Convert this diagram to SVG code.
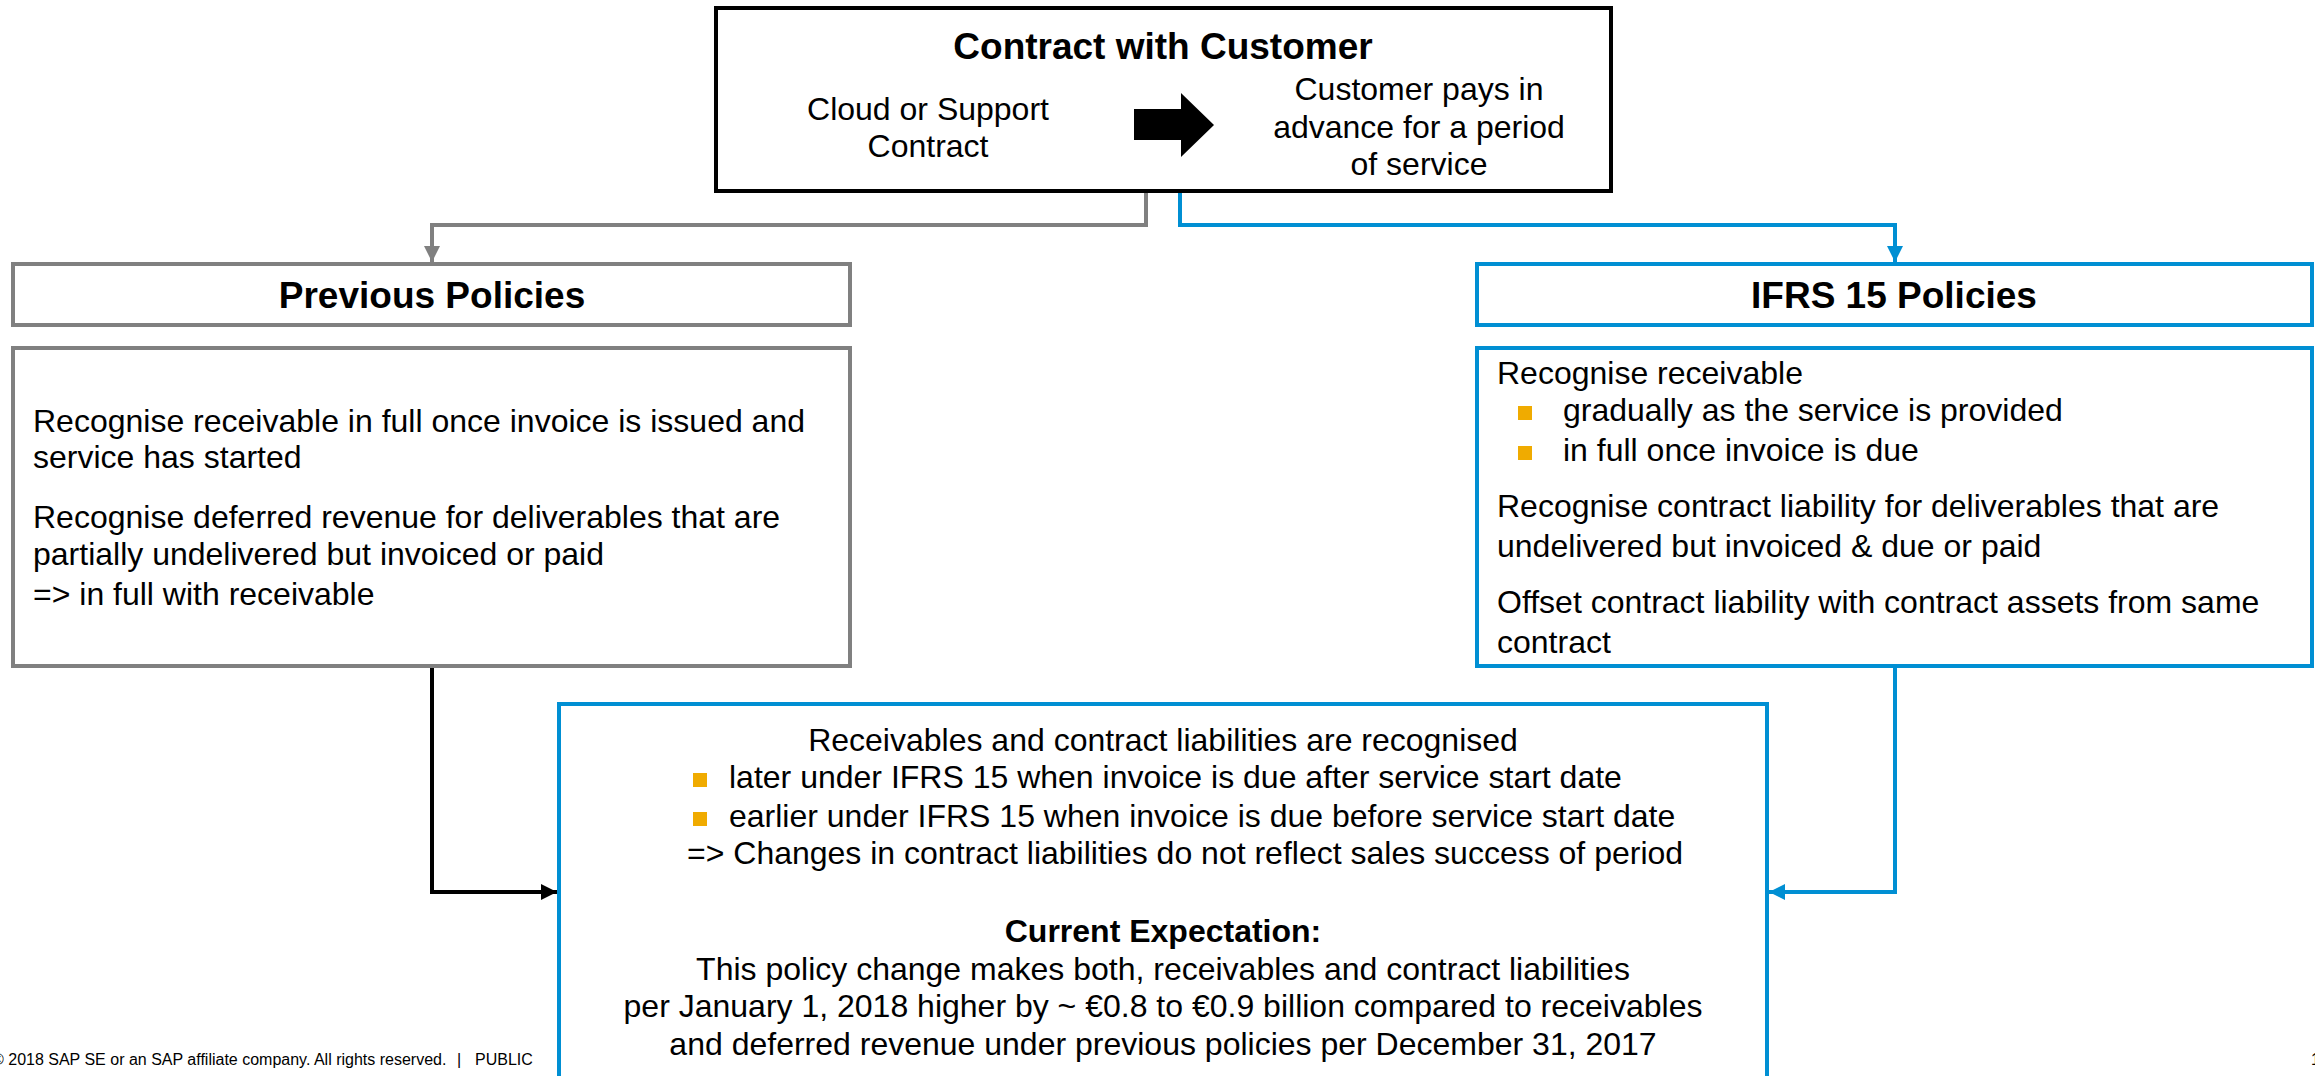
<svg xmlns="http://www.w3.org/2000/svg" width="2315" height="1076" viewBox="0 0 2315 1076">
  <style>
    .t { font-family: "Liberation Sans", Arial, sans-serif; font-size: 32px; fill: #000; }
    .b { font-family: "Liberation Sans", Arial, sans-serif; font-size: 37px; font-weight: bold; fill: #000; }
    .c { text-anchor: middle; }
    .foot { font-family: "Liberation Sans", Arial, sans-serif; font-size: 16px; fill: #000; }
    .box { fill: #fff; stroke-width: 4; }
    .black { stroke: #000; }
    .gray { stroke: #808080; }
    .blue { stroke: #008fd3; }
    .bul { fill: #f0ab00; }
    .line { fill: none; stroke-width: 4; }
  </style>
  <defs>
    <marker id="ahGray" markerUnits="userSpaceOnUse" viewBox="0 0 16 16" refX="16" refY="8" markerWidth="16" markerHeight="16" orient="auto">
      <path d="M0,0 L16,8 L0,16 Z" fill="#808080"/>
    </marker>
    <marker id="ahBlue" markerUnits="userSpaceOnUse" viewBox="0 0 16 16" refX="16" refY="8" markerWidth="16" markerHeight="16" orient="auto">
      <path d="M0,0 L16,8 L0,16 Z" fill="#008fd3"/>
    </marker>
    <marker id="ahBlack" markerUnits="userSpaceOnUse" viewBox="0 0 16 16" refX="16" refY="8" markerWidth="16" markerHeight="16" orient="auto">
      <path d="M0,0 L16,8 L0,16 Z" fill="#000"/>
    </marker>
  </defs>

  <rect width="2315" height="1076" fill="#fff"/>

  <!-- connectors -->
  <g id="connectors">
    <path class="line gray" d="M1146,191 V225 H432 V262" marker-end="url(#ahGray)"/>
    <path class="line blue" d="M1180,191 V225 H1895 V262" marker-end="url(#ahBlue)"/>
    <path class="line black" d="M432,666 V892 H557" marker-end="url(#ahBlack)"/>
    <path class="line blue" d="M1895,666 V892 H1769" marker-end="url(#ahBlue)"/>
  </g>

  <!-- contract with customer -->
  <g id="contract">
    <rect class="box black" x="716" y="8" width="895" height="183"/>
    <text class="b c" x="1163" y="59">Contract with Customer</text>
    <text class="t c" x="928" y="120">Cloud or Support</text>
    <text class="t c" x="928" y="157">Contract</text>
    <polygon points="1134,109 1181,109 1181,93 1214,125 1181,157 1181,140 1134,140" fill="#000"/>
    <text class="t c" x="1419" y="100">Customer pays in</text>
    <text class="t c" x="1419" y="138">advance for a period</text>
    <text class="t c" x="1419" y="175">of service</text>
  </g>

  <!-- previous policies -->
  <g id="previous-title">
    <rect class="box gray" x="13" y="264" width="837" height="61"/>
    <text class="b c" x="432" y="308">Previous Policies</text>
  </g>
  <g id="previous-body">
    <rect class="box gray" x="13" y="348" width="837" height="318"/>
    <text class="t" x="33" y="432">Recognise receivable in full once invoice is issued and</text>
    <text class="t" x="33" y="468">service has started</text>
    <text class="t" x="33" y="528">Recognise deferred revenue for deliverables that are</text>
    <text class="t" x="33" y="565">partially undelivered but invoiced or paid</text>
    <text class="t" x="33" y="605">=&gt; in full with receivable</text>
  </g>

  <!-- IFRS 15 policies -->
  <g id="ifrs-title">
    <rect class="box blue" x="1477" y="264" width="835" height="61"/>
    <text class="b c" x="1894" y="308">IFRS 15 Policies</text>
  </g>
  <g id="ifrs-body">
    <rect class="box blue" x="1477" y="348" width="835" height="318"/>
    <text class="t" x="1497" y="384">Recognise receivable</text>
    <rect class="bul" x="1518" y="406" width="14" height="14"/>
    <text class="t" x="1563" y="421">gradually as the service is provided</text>
    <rect class="bul" x="1518" y="446" width="14" height="14"/>
    <text class="t" x="1563" y="461">in full once invoice is due</text>
    <text class="t" x="1497" y="517">Recognise contract liability for deliverables that are</text>
    <text class="t" x="1497" y="557">undelivered but invoiced &amp; due or paid</text>
    <text class="t" x="1497" y="613">Offset contract liability with contract assets from same</text>
    <text class="t" x="1497" y="653">contract</text>
  </g>

  <!-- effect of the change -->
  <g id="effect">
    <rect class="box blue" x="559" y="704" width="1208" height="400"/>
    <text class="t c" x="1163" y="751">Receivables and contract liabilities are recognised</text>
    <rect class="bul" x="693" y="773" width="14" height="14"/>
    <text class="t" x="729" y="788">later under IFRS 15 when invoice is due after service start date</text>
    <rect class="bul" x="693" y="812" width="14" height="14"/>
    <text class="t" x="729" y="827">earlier under IFRS 15 when invoice is due before service start date</text>
    <text class="t" x="687" y="864">=&gt; Changes in contract liabilities do not reflect sales success of period</text>
    <text class="b c" x="1163" y="942" style="font-size:32px">Current Expectation:</text>
    <text class="t c" x="1163" y="980">This policy change makes both, receivables and contract liabilities</text>
    <text class="t c" x="1163" y="1017">per January 1, 2018 higher by ~ €0.8 to €0.9 billion compared to receivables</text>
    <text class="t c" x="1163" y="1055">and deferred revenue under previous policies per December 31, 2017</text>
  </g>

  <!-- footer -->
  <g id="footer">
    <text class="foot" x="-8" y="1065">© 2018 SAP SE or an SAP affiliate company. All rights reserved.</text>
    <text class="foot" x="457" y="1065">|</text>
    <text class="foot" x="475" y="1065">PUBLIC</text>
    <text class="foot" x="2311" y="1065">1</text>
  </g>
</svg>
